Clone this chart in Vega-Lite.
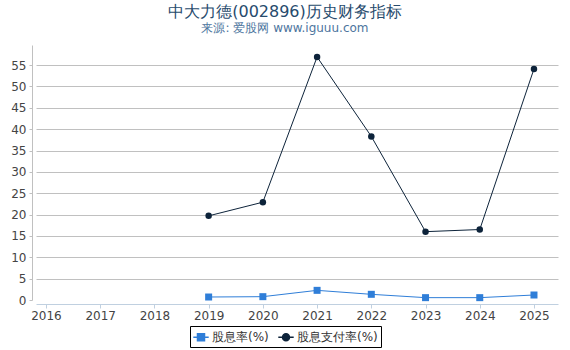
{
  "$schema": "https://vega.github.io/schema/vega-lite/v6.json",
  "width": 522,
  "height": 255,
  "autosize": {"type": "none"},
  "padding": {"left": 36, "top": 45, "right": 12, "bottom": 50},
  "background": "white",
  "config": {
    "font": "DejaVu Sans",
    "view": {"stroke": null},
    "legend": {
      "orient": "none",
      "legendX": 154,
      "legendY": 281,
      "direction": "horizontal",
      "title": null,
      "strokeColor": "#000000",
      "padding": 3,
      "symbolSize": 196,
      "symbolStrokeWidth": 1.5,
      "labelFontSize": 12,
      "labelColor": "#333333",
      "labelOffset": 3,
      "columnPadding": 6
    }
  },
  "title": {
    "text": "中大力德(002896)历史财务指标",
    "subtitle": "来源: 爱股网 www.iguuu.com",
    "anchor": "middle",
    "dx": -12,
    "fontSize": 16,
    "fontWeight": "normal",
    "color": "#274b6d",
    "subtitleFontSize": 12,
    "subtitleColor": "#4d759e",
    "offset": 11,
    "subtitlePadding": 3
  },
  "data": {
    "values": [
      {"year": 2019, "series": "股息率(%)", "value": 0.70},
      {"year": 2020, "series": "股息率(%)", "value": 0.78},
      {"year": 2021, "series": "股息率(%)", "value": 2.26},
      {"year": 2022, "series": "股息率(%)", "value": 1.33},
      {"year": 2023, "series": "股息率(%)", "value": 0.55},
      {"year": 2024, "series": "股息率(%)", "value": 0.55},
      {"year": 2025, "series": "股息率(%)", "value": 1.17},
      {"year": 2019, "series": "股息支付率(%)", "value": 19.7},
      {"year": 2020, "series": "股息支付率(%)", "value": 22.9},
      {"year": 2021, "series": "股息支付率(%)", "value": 56.9},
      {"year": 2022, "series": "股息支付率(%)", "value": 38.3},
      {"year": 2023, "series": "股息支付率(%)", "value": 16.0},
      {"year": 2024, "series": "股息支付率(%)", "value": 16.5},
      {"year": 2025, "series": "股息支付率(%)", "value": 54.1}
    ]
  },
  "encoding": {
    "x": {
      "field": "year",
      "type": "quantitative",
      "scale": {"domain": [2015.816, 2025.443], "nice": false, "zero": false},
      "axis": {
        "values": [2016, 2017, 2018, 2019, 2020, 2021, 2022, 2023, 2024, 2025],
        "format": "d",
        "title": null,
        "grid": false,
        "offset": 4,
        "domainColor": "#c0d0e0",
        "tickColor": "#c0d0e0",
        "tickSize": 4,
        "labelPadding": 2,
        "labelFontSize": 12,
        "labelColor": "#444444",
        "labelOverlap": false,
        "labelFlush": false
      }
    },
    "y": {
      "field": "value",
      "type": "quantitative",
      "scale": {"domain": [0, 59.7], "nice": false},
      "axis": {
        "values": [0, 5, 10, 15, 20, 25, 30, 35, 40, 45, 50, 55],
        "title": null,
        "offset": 4,
        "domainColor": "#c0c0c0",
        "tickColor": "#c0c0c0",
        "tickSize": 3,
        "labelPadding": 3,
        "labelFontSize": 12,
        "labelColor": "#444444",
        "gridColor": "#c0c0c0",
        "gridOpacity": {"condition": {"test": "datum.value === 0", "value": 0}, "value": 1}
      }
    },
    "color": {
      "field": "series",
      "type": "nominal",
      "scale": {"domain": ["股息率(%)", "股息支付率(%)"], "range": ["#2f7ed8", "#0d233a"]},
      "legend": {
        "encode": {
          "symbols": {
            "update": {
              "opacity": {"value": 1},
              "fill": {"scale": "color", "field": "value"},
              "stroke": {"scale": "color", "field": "value"},
              "strokeWidth": {"value": 1.5}
            }
          }
        }
      }
    }
  },
  "layer": [
    {"mark": {"type": "line", "strokeWidth": 1}},
    {
      "transform": [{"filter": "datum.series === '股息率(%)'"}],
      "mark": {"type": "point", "shape": "square", "filled": true, "size": 49, "opacity": 1}
    },
    {
      "transform": [{"filter": "datum.series === '股息支付率(%)'"}],
      "mark": {"type": "point", "shape": "circle", "filled": true, "size": 42, "opacity": 1}
    },
    {
      "mark": {"type": "point", "filled": true, "opacity": 0},
      "encoding": {
        "shape": {
          "field": "series",
          "type": "nominal",
          "scale": {
            "domain": ["股息率(%)", "股息支付率(%)"],
            "range": [
              "M-1.1,0H1.1M-0.5,-0.5H0.5V0.5H-0.5Z",
              "M-1.1,0H1.1M0.5,0A0.5,0.5,0,1,1,-0.5,0A0.5,0.5,0,1,1,0.5,0Z"
            ]
          },
          "legend": {
            "encode": {
              "symbols": {
                "update": {
                  "opacity": {"value": 1},
                  "fill": {"scale": "color", "field": "value"},
                  "stroke": {"scale": "color", "field": "value"},
                  "strokeWidth": {"value": 1.5}
                }
              }
            }
          }
        }
      }
    }
  ]
}
